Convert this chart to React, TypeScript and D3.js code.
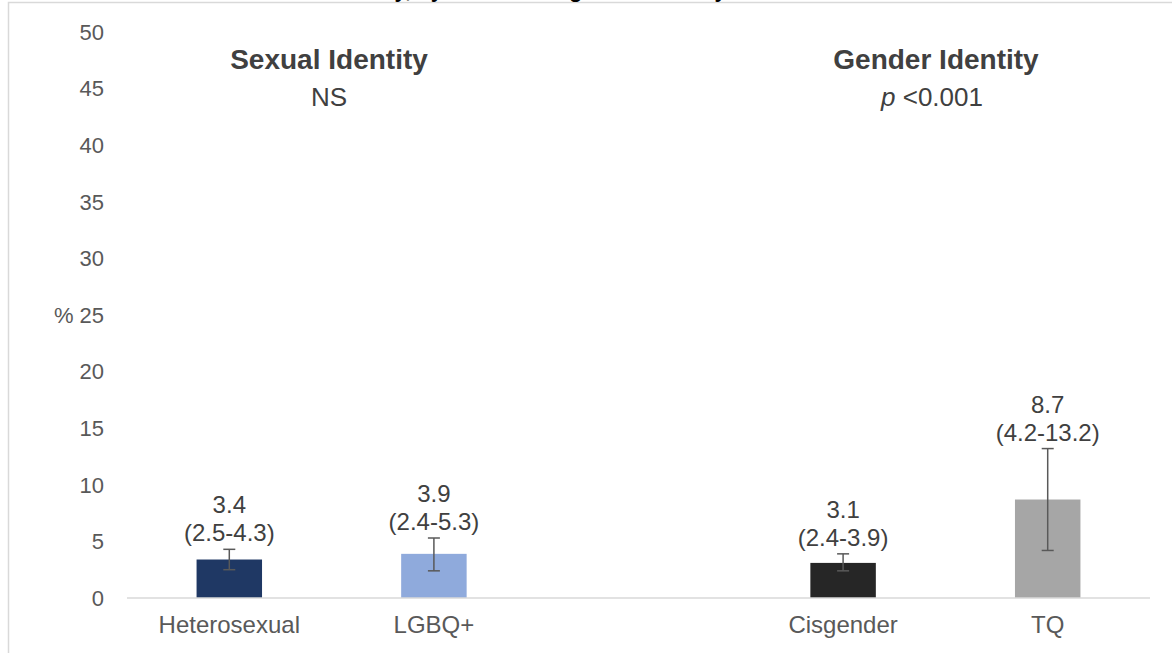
import React, { useEffect, useRef } from "react";
import * as d3 from "d3";

const categories = ["Heterosexual", "LGBQ+", " ", "Cisgender", "TQ"];
const values = [3.4, 3.9, null, 3.1, 8.7];
const lower = [2.5, 2.4, null, 2.4, 4.2];
const upper = [4.3, 5.3, null, 3.9, 13.2];
const colors = ["#1F3864", "#8FAADC", "none", "#262626", "#A6A6A6"];
const yTicks = [0, 5, 10, 15, 20, 25, 30, 35, 40, 45, 50];

const W = 1172;
const H = 653;
const FONT = "'Liberation Sans', Arial, sans-serif";

export default function App() {
  const ref = useRef<SVGSVGElement>(null);

  useEffect(() => {
    const svg = d3.select(ref.current);
    svg.selectAll("*").remove();

    const y = d3.scaleLinear().domain([0, 50]).range([598, 32]);
    const x = d3
      .scaleBand<string>()
      .domain(categories)
      .range([127, 1150])
      .paddingInner(0.68)
      .paddingOuter(0.34);

    // frame
    svg
      .append("rect")
      .attr("x", 8.5)
      .attr("y", 2.5)
      .attr("width", W + 20)
      .attr("height", H + 20)
      .attr("fill", "none")
      .attr("stroke", "#d9d9d9")
      .attr("stroke-width", 1.5);

    // clipped title (cut off at the top edge, as in the reference)
    svg
      .append("text")
      .attr("x", 150)
      .attr("y", -3)
      .attr("font-family", FONT)
      .attr("font-weight", "bold")
      .attr("font-size", 22)
      .attr("fill", "#000")
      .text("Prevalence of suicidality, by sexual and gender identity");

    // y tick labels
    svg
      .append("g")
      .selectAll("text")
      .data(yTicks)
      .join("text")
      .attr("x", 104)
      .attr("y", (d) => y(d))
      .attr("dy", "0.35em")
      .attr("text-anchor", "end")
      .attr("font-family", FONT)
      .attr("font-size", 22)
      .attr("fill", "#595959")
      .text((d) => String(d));

    svg
      .append("text")
      .attr("x", 54)
      .attr("y", y(25))
      .attr("dy", "0.35em")
      .attr("font-family", FONT)
      .attr("font-size", 22)
      .attr("fill", "#595959")
      .text("%");

    const idx = d3.range(categories.length).filter((i) => values[i] !== null);

    // bars
    svg
      .append("g")
      .selectAll("rect")
      .data(idx)
      .join("rect")
      .attr("x", (i) => x(categories[i])!)
      .attr("width", x.bandwidth())
      .attr("y", (i) => y(values[i] as number))
      .attr("height", (i) => y(0) - y(values[i] as number))
      .attr("fill", (i) => colors[i]);

    // baseline
    svg
      .append("line")
      .attr("x1", 127)
      .attr("x2", 1150)
      .attr("y1", y(0))
      .attr("y2", y(0))
      .attr("stroke", "#d9d9d9")
      .attr("stroke-width", 1.5);

    // error bars
    const eg = svg.append("g").attr("stroke", "#595959").attr("stroke-width", 1.5);
    idx.forEach((i) => {
      const cx = x(categories[i])! + x.bandwidth() / 2;
      eg.append("line")
        .attr("x1", cx)
        .attr("x2", cx)
        .attr("y1", y(lower[i] as number))
        .attr("y2", y(upper[i] as number));
      [lower[i], upper[i]].forEach((v) => {
        eg.append("line")
          .attr("x1", cx - 6)
          .attr("x2", cx + 6)
          .attr("y1", y(v as number))
          .attr("y2", y(v as number));
      });
    });

    // value labels
    const lg = svg
      .append("g")
      .attr("font-family", FONT)
      .attr("font-size", 24)
      .attr("fill", "#404040")
      .attr("text-anchor", "middle");
    idx.forEach((i) => {
      const cx = x(categories[i])! + x.bandwidth() / 2;
      const top = y(upper[i] as number);
      lg.append("text")
        .attr("x", cx)
        .attr("y", top - 36)
        .text(String(values[i]));
      lg.append("text")
        .attr("x", cx)
        .attr("y", top - 8)
        .text(`(${lower[i]}-${upper[i]})`);
    });

    // category labels
    svg
      .append("g")
      .selectAll("text")
      .data(categories)
      .join("text")
      .attr("x", (d) => x(d)! + x.bandwidth() / 2)
      .attr("y", 633)
      .attr("text-anchor", "middle")
      .attr("font-family", FONT)
      .attr("font-size", 24)
      .attr("fill", "#595959")
      .text((d) => d);

    // group headings
    const hg = svg
      .append("g")
      .attr("font-family", FONT)
      .attr("fill", "#404040")
      .attr("text-anchor", "middle");
    hg.append("text").attr("x", 329).attr("y", 69).attr("font-size", 28).attr("font-weight", "bold").text("Sexual Identity");
    hg.append("text").attr("x", 329).attr("y", 106).attr("font-size", 26).text("NS");
    hg.append("text").attr("x", 936).attr("y", 69).attr("font-size", 28).attr("font-weight", "bold").text("Gender Identity");
    const pt = hg.append("text").attr("x", 932).attr("y", 106).attr("font-size", 26);
    pt.append("tspan").attr("font-style", "italic").text("p");
    pt.append("tspan").text(" <0.001");
  }, []);

  return (
    <svg
      ref={ref}
      width={W}
      height={H}
      style={{ position: "absolute", left: 0, top: 0, background: "#fff" }}
    />
  );
}
